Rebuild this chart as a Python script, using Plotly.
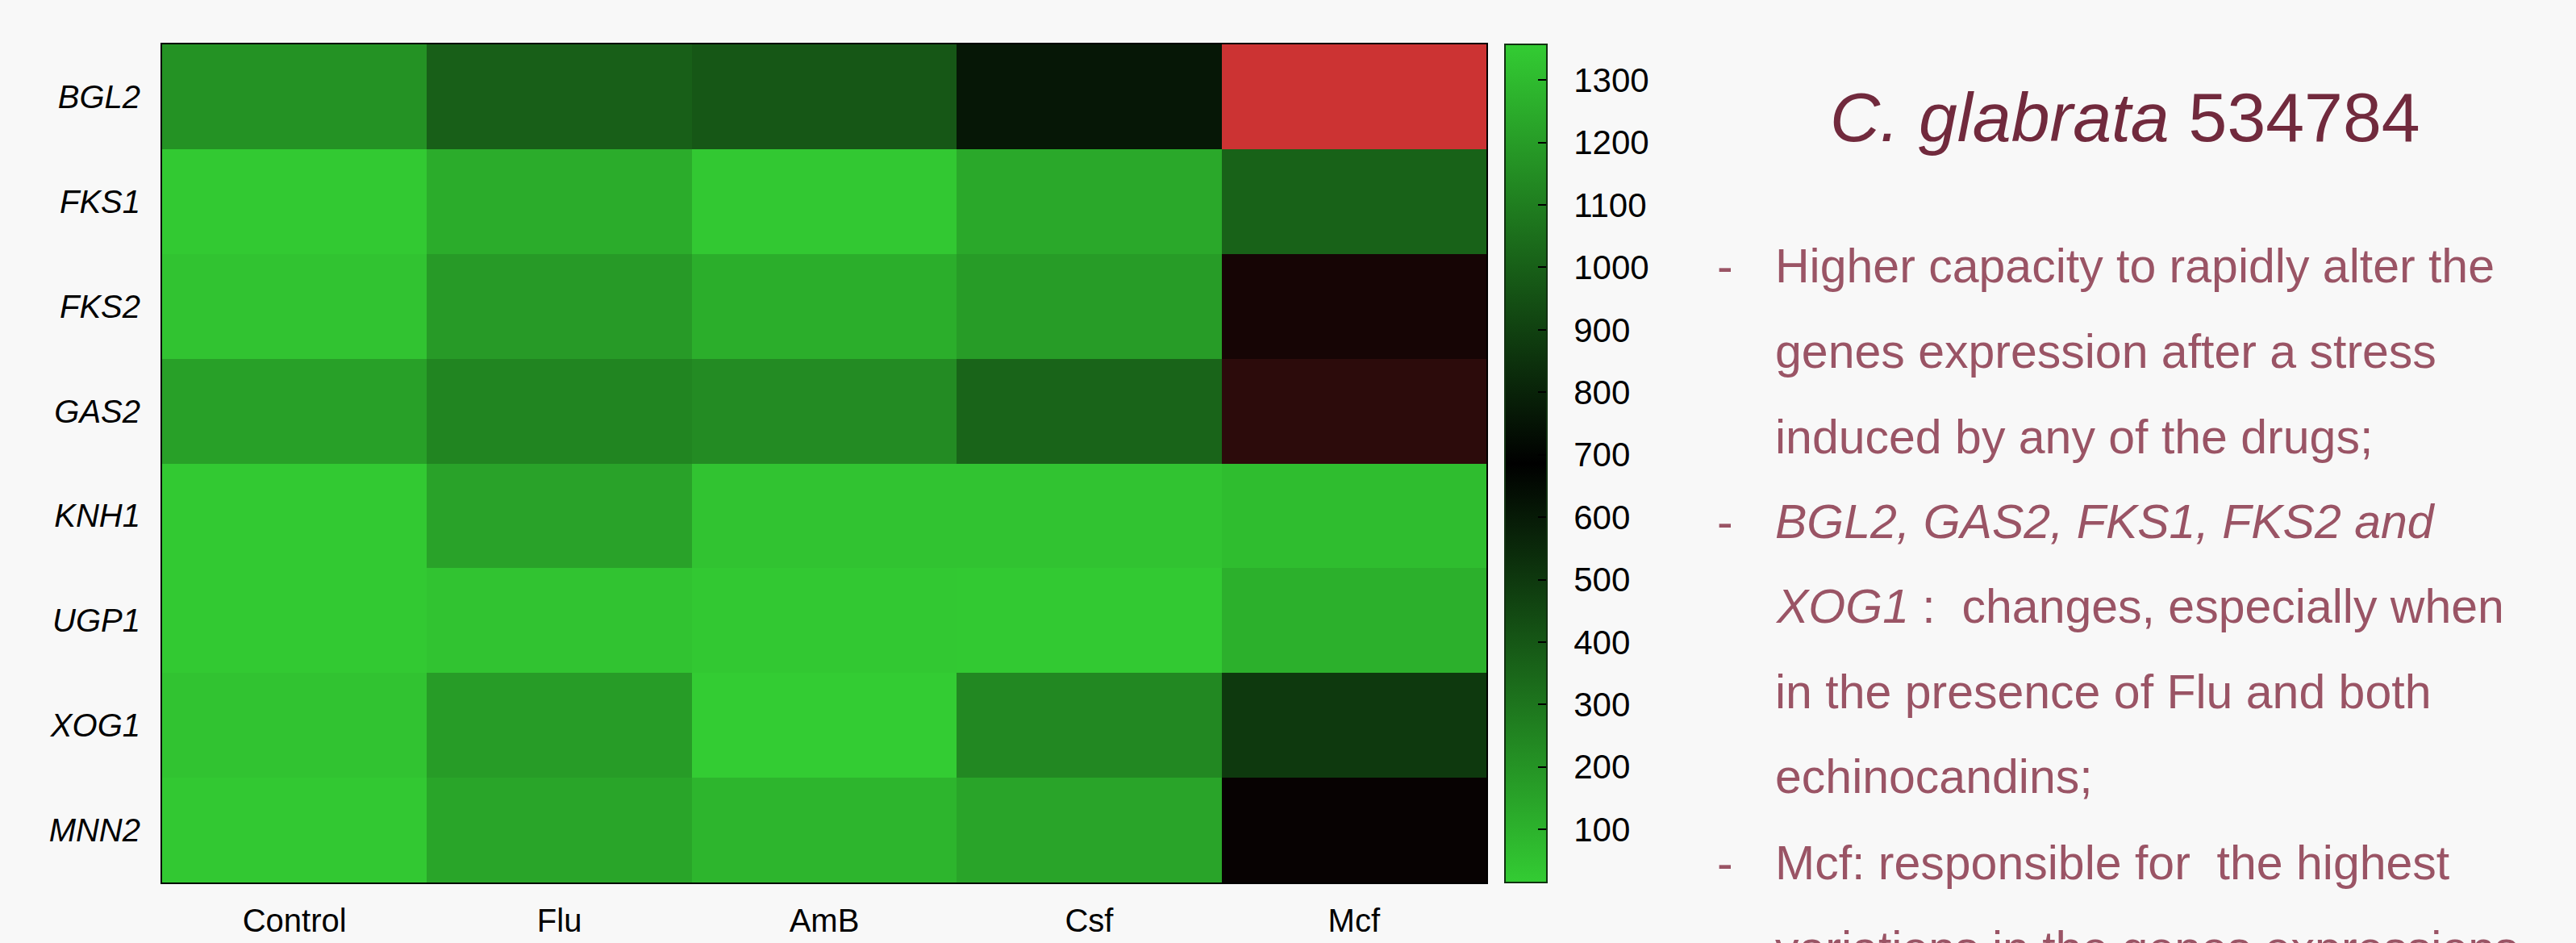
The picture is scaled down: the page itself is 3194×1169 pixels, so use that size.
import plotly.graph_objects as go

# ---------------- data ----------------
genes = ["BGL2", "FKS1", "FKS2", "GAS2", "KNH1", "UGP1", "XOG1", "MNN2"]
conditions = ["Control", "Flu", "AmB", "Csf", "Mcf"]

control = [1166, 1347, 1327, 1212, 1347, 1347, 1327, 1344]
flu     = [999, 1252, 1193, 1123, 1219, 1327, 1199, 1229]
amb     = [972, 1344, 1258, 1143, 1327, 1344, 1357, 1281]
csf     = [762, 1239, 1199, 1015, 1327, 1347, 1133, 1225]
mcf     = [15, 1008, 614, 541, 1307, 1265, 873, 663]

scale_min, scale_max = 15, 1357
cbar_ticks = [100, 200, 300, 400, 500, 600, 700, 800, 900, 1000, 1100, 1200, 1300]

title_html = "<i>C. glabrata</i> 534784"
body_lines = [
    ("-", "Higher capacity to rapidly alter the"),
    ("", "genes expression after a stress"),
    ("", "induced by any of the drugs;"),
    ("-", "<i>BGL2, GAS2, FKS1, FKS2 and</i>"),
    ("", "<i>XOG1</i>\u00a0:\u00a0\u00a0changes, especially when"),
    ("", "in the presence of Flu and both"),
    ("", "echinocandins;"),
    ("-", "Mcf: responsible for\u00a0\u00a0the highest"),
    ("", "variations in the genes expressions"),
]

# ---------------- layout constants ----------------
W, H = 3194, 1169
PL, PR, PT, PB = 201, 1843, 55, 1094
BG = "#f8f8f8"
FONT = "Liberation Sans, Arial, sans-serif"
BODY_SIZE = 59

def fx(px):
    return (px - PL) / (PR - PL)

def fy(py):
    return (PB - py) / (PB - PT)

z = [list(r) for r in zip(control, flu, amb, csf, mcf)]

fig = go.Figure()
fig.add_trace(go.Heatmap(
    z=z, x=conditions, y=genes,
    colorscale=[[0, "#cc3333"], [0.5, "#000000"], [1, "#33cc33"]],
    zmin=scale_min, zmax=scale_max,
    showscale=False, xgap=0, ygap=0,
))

fig.add_trace(go.Scatter(
    x=[None], y=[None], mode="markers", showlegend=False, hoverinfo="skip",
    marker=dict(
        color=[scale_min, scale_max], cmin=scale_min, cmax=scale_max,
        colorscale=[[0, "#33cc33"], [0.5, "#000000"], [1, "#33cc33"]],
        showscale=True,
        colorbar=dict(
            xref="container", x=1866 / W, xanchor="left", xpad=0,
            yref="paper", y=0.5, yanchor="middle", len=1, lenmode="fraction", ypad=0,
            thickness=52, thicknessmode="pixels",
            outlinecolor="#123212", outlinewidth=2,
            tickvals=cbar_ticks,
            ticktext=["\u00a0\u00a0" + str(t) for t in cbar_ticks],
            ticks="inside", ticklen=12, tickwidth=2, tickcolor="#000000",
            tickfont=dict(family=FONT, size=42, color="#000000"),
            bgcolor="rgba(0,0,0,0)", borderwidth=0,
        ),
    ),
))

annotations = [dict(
    xref="paper", yref="paper", x=fx(2635), y=fy(145),
    text=title_html, showarrow=False, xanchor="center", yanchor="middle",
    font=dict(family=FONT, size=86, color="#712a3d"),
)]
baselines = [351, 457, 563, 668, 773, 879, 984, 1091, 1197]
for (dash, txt), bl in zip(body_lines, baselines):
    yc = bl - 0.36 * BODY_SIZE
    if dash:
        annotations.append(dict(
            xref="paper", yref="paper", x=fx(2127), y=fy(yc),
            text=dash, showarrow=False, xanchor="left", yanchor="middle",
            font=dict(family=FONT, size=BODY_SIZE, color="#9a5465"),
        ))
    annotations.append(dict(
        xref="paper", yref="paper", x=fx(2199), y=fy(yc),
        text=txt, showarrow=False, xanchor="left", yanchor="middle",
        font=dict(family=FONT, size=BODY_SIZE, color="#9a5465"),
    ))

fig.update_layout(
    width=W, height=H,
    margin=dict(l=PL, r=W - PR, t=PT, b=H - PB, pad=0, autoexpand=False),
    paper_bgcolor=BG, plot_bgcolor=BG,
    annotations=annotations,
    xaxis=dict(
        type="category", categoryorder="array", categoryarray=conditions,
        showgrid=False, zeroline=False, ticks="", automargin=False,
        showline=True, mirror=True, linecolor="#000000", linewidth=2,
        tickfont=dict(family=FONT, size=40, color="#000000"),
        ticklabelstandoff=11,
    ),
    yaxis=dict(
        type="category", categoryorder="array", categoryarray=genes,
        autorange="reversed", automargin=False,
        showgrid=False, zeroline=False, ticks="",
        showline=True, mirror=True, linecolor="#000000", linewidth=2,
        tickfont=dict(family=FONT, size=40, color="#000000", style="italic"),
        ticklabelstandoff=17,
    ),
)

fig.write_html("out.html")
